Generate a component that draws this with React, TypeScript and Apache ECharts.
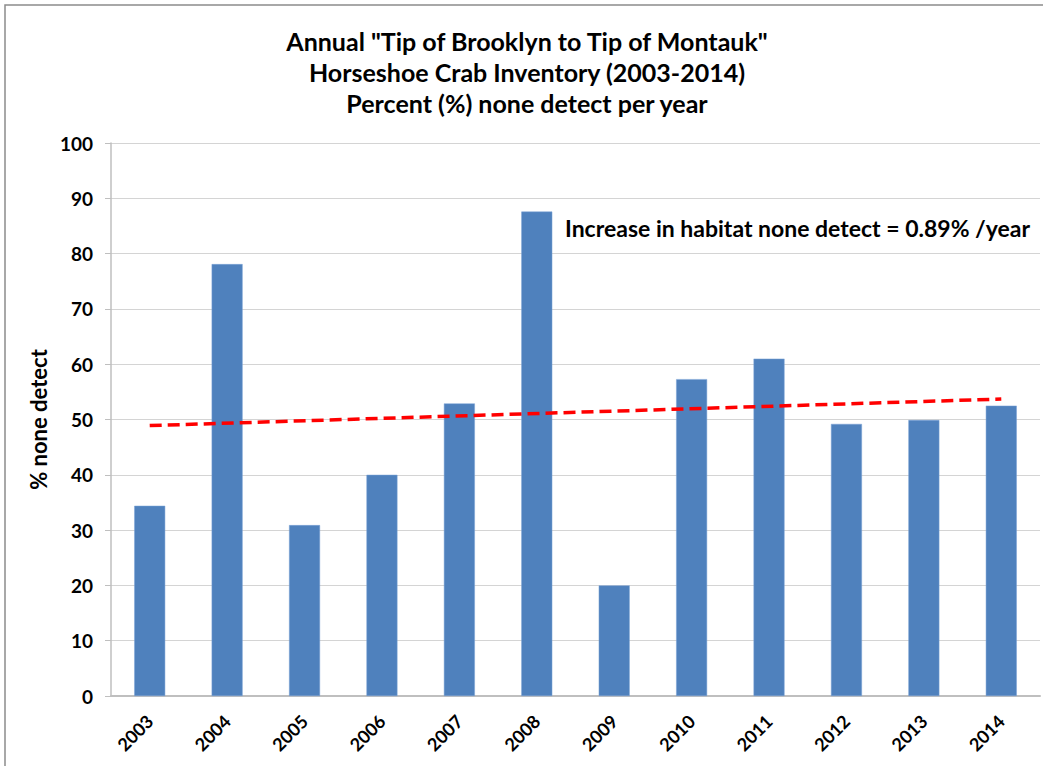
import React, { useEffect, useRef } from "react";
import * as echarts from "echarts";

const years = ["2003", "2004", "2005", "2006", "2007", "2008", "2009", "2010", "2011", "2012", "2013", "2014"];
const noneDetect = [34.4, 78.1, 30.9, 40.0, 52.9, 87.6, 20.0, 57.3, 61.0, 49.2, 49.9, 52.5];
const trendStart = 48.9;
const trendEnd = 53.7;
const titleLines = [
  'Annual "Tip of Brooklyn to Tip of Montauk"',
  "Horseshoe Crab Inventory (2003-2014)",
  "Percent (%) none detect per year",
];
const annotation = "Increase in habitat none detect = 0.89% /year";
const yTitle = "% none detect";

export default function App() {
  const ref = useRef<HTMLDivElement>(null);
  useEffect(() => {
    if (!ref.current) return;
    const chart = echarts.init(ref.current, null, { renderer: "svg" });
    const font = "Lato, 'Open Sans', sans-serif";
    chart.setOption({
      animation: false,
      backgroundColor: "#ffffff",
      grid: { left: 111, right: 3, top: 143, bottom: 70 },
      graphic: [
        {
          type: "rect",
          shape: { x: 5, y: 5, width: 1060, height: 800 },
          style: { fill: "none", stroke: "#8c8c8c", lineWidth: 1.5 },
          silent: true,
        },
        ...titleLines.map((t, i) => ({
          type: "text",
          x: 527,
          y: 41 + i * 31,
          style: {
            text: t,
            fontSize: 25,
            fontWeight: "bold",
            fontFamily: font,
            fill: "#000",
            align: "center",
            verticalAlign: "middle",
          },
        })),
        {
          type: "text",
          x: 565,
          y: 228,
          style: {
            text: annotation,
            fontSize: 23,
            fontWeight: "bold",
            fontFamily: font,
            fill: "#000",
            align: "left",
            verticalAlign: "middle",
          },
        },
      ],
      xAxis: {
        type: "category",
        data: years,
        boundaryGap: true,
        axisLine: { show: true, lineStyle: { color: "#bfbfbf", width: 2 } },
        axisTick: { show: false },
        axisLabel: {
          rotate: 45,
          margin: 22,
          fontSize: 18,
          fontWeight: "bold",
          fontFamily: font,
          color: "#000",
          interval: 0,
        },
      },
      yAxis: {
        type: "value",
        min: 0,
        max: 100,
        interval: 10,
        name: yTitle,
        nameLocation: "middle",
        nameGap: 57,
        nameTextStyle: { fontSize: 22, fontWeight: "bold", fontFamily: font, color: "#000" },
        axisLine: { show: true, lineStyle: { color: "#bfbfbf", width: 1.5 } },
        axisTick: { show: true, length: 6, lineStyle: { color: "#bfbfbf" } },
        axisLabel: {
          margin: 18,
          fontSize: 19,
          fontWeight: "bold",
          fontFamily: font,
          color: "#000",
        },
        splitLine: { show: true, lineStyle: { color: "#d4d4d4", width: 1 } },
      },
      series: [
        {
          type: "bar",
          data: noneDetect,
          barWidth: "40%",
          itemStyle: { color: "#4f81bd", borderColor: "#7aa3d6", borderWidth: 0.5 },
          markLine: {
            silent: true,
            symbol: ["none", "none"],
            label: { show: false },
            lineStyle: { color: "#ff0000", width: 3.5, type: [12, 6] },
            data: [[{ coord: [0, trendStart] }, { coord: [11, trendEnd] }]],
          },
        },
      ],
    });
    return () => chart.dispose();
  }, []);
  return (
    <div
      ref={ref}
      style={{ position: "fixed", left: 0, top: 0, width: 1043, height: 766 }}
    />
  );
}
